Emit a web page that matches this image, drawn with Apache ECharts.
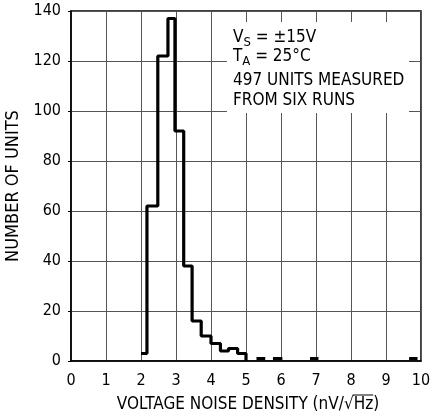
<!DOCTYPE html>
<html><head><meta charset="utf-8">
<script src="https://cdn.jsdelivr.net/npm/echarts@6/dist/echarts.min.js"></script>
<style>html,body{margin:0;padding:0;background:#fff}#c{width:433px;height:419px}</style>
</head><body><div id="c"></div>
<script>
// Histogram bin edges (nV/√Hz) and counts
const binEdges = [2.0, 2.17, 2.48, 2.77, 2.97, 3.22, 3.46, 3.72, 4.0, 4.27, 4.5, 4.76, 5.0];
const binCounts = [3, 62, 122, 137, 92, 38, 16, 10, 7, 4, 5, 3];
// isolated single units beyond 5 nV/√Hz: [start, end]
const outlierBins = [[5.3, 5.55], [5.77, 6.04], [6.83, 7.07], [9.66, 9.9]];
const xTicks = [0,1,2,3,4,5,6,7,8,9,10];
const yTicks = [0,20,40,60,80,100,120,140];
const condLines = [['V', 'S', ' = ±15V'], ['T', 'A', ' = 25°C']];
const notes = ['497 UNITS MEASURED', 'FROM SIX RUNS'];

const FONT = "'Liberation Sans Narrow','DejaVu Sans Condensed','Roboto Condensed','Liberation Sans',Arial,sans-serif";

// Build step path points
const pts = [];
for (let i = 0; i < binCounts.length; i++) pts.push([binEdges[i], binCounts[i]]);
pts.push([binEdges[binEdges.length-1], 0]);
const outSeries = outlierBins.map(b => ({
  type: 'line', step: 'end', symbol: 'none', silent: true,
  lineStyle: {color: '#000', width: 3},
  data: [[b[0], 1], [b[1], 1]], z: 5
}));

const chart = echarts.init(document.getElementById('c'), null, {renderer: 'canvas'});

const cv = document.createElement('canvas').getContext('2d');
function tw(s, size) { cv.font = size + 'px ' + FONT; return cv.measureText(s).width; }

// x-axis title with overline over Hz
const titleSize = 17;
const t1 = 'VOLTAGE NOISE DENSITY (nV/√', t2 = 'Hz', t3 = ')';
const w1 = tw(t1, titleSize), w2 = tw(t2, titleSize), w3 = tw(t3, titleSize);
const gridL = 71, gridR = 12, W = 433;
const cx = gridL + (W - gridL - gridR) / 2 + 2;
const tx0 = cx - (w1 + w2 + w3) / 2;
const titleY = 404.5;

// annotation
const AF = 17, SF = 13, AX = 233;
const lineCenters = [38, 56.7];
const graphics = [
  {type: 'rect', shape: {x: 227, y: 22, width: 182, height: 91}, style: {fill: '#fff'}, z: 10}
];
condLines.forEach((parts, i) => {
  const yc = lineCenters[i];
  const wa = tw(parts[0], AF), wb = tw(parts[1], SF);
  graphics.push({type: 'text', x: AX, y: yc, z: 11, style: {text: parts[0], font: AF + 'px ' + FONT, fill: '#000', verticalAlign: 'middle'}});
  graphics.push({type: 'text', x: AX + wa, y: yc + 5, z: 11, style: {text: parts[1], font: SF + 'px ' + FONT, fill: '#000', verticalAlign: 'middle'}});
  graphics.push({type: 'text', x: AX + wa + wb, y: yc, z: 11, style: {text: parts[2], font: AF + 'px ' + FONT, fill: '#000', verticalAlign: 'middle'}});
});
graphics.push({type: 'text', x: AX, y: 81, z: 11, style: {text: notes[0], font: AF + 'px ' + FONT, fill: '#000', verticalAlign: 'middle'}});
graphics.push({type: 'text', x: AX, y: 101, z: 11, style: {text: notes[1], font: AF + 'px ' + FONT, fill: '#000', verticalAlign: 'middle'}});
graphics.push({type: 'text', x: tx0, y: titleY, z: 11, style: {text: t1, font: titleSize + 'px ' + FONT, fill: '#000', verticalAlign: 'middle'}});
graphics.push({type: 'text', x: tx0 + w1, y: titleY, z: 11, style: {text: t2, font: titleSize + 'px ' + FONT, fill: '#000', verticalAlign: 'middle'}});
graphics.push({type: 'text', x: tx0 + w1 + w2, y: titleY, z: 11, style: {text: t3, font: titleSize + 'px ' + FONT, fill: '#000', verticalAlign: 'middle'}});
graphics.push({type: 'line', z: 11, shape: {x1: tx0 + w1 - 1, y1: titleY - 9.5, x2: tx0 + w1 + w2, y2: titleY - 9.5}, style: {stroke: '#000', lineWidth: 1}});

chart.setOption({
  animation: false,
  grid: {left: gridL, right: gridR, top: 11, bottom: 58, show: true, borderColor: '#000', borderWidth: 1.5,
         containLabel: false, outerBoundsMode: 'none'},
  xAxis: {
    type: 'value', min: 0, max: 10, interval: 1,
    axisLine: {show: true, onZero: false, lineStyle: {color: '#000', width: 1.5}},
    axisTick: {show: false},
    axisLabel: {color: '#000', fontFamily: FONT, fontSize: 16, margin: 12,
      formatter: v => xTicks.includes(v) ? String(v) : ''},
    splitLine: {show: true, lineStyle: {color: '#555', width: 1}}
  },
  yAxis: {
    type: 'value', min: 0, max: 140, interval: 20,
    name: 'NUMBER OF UNITS', nameLocation: 'middle', nameGap: 48, nameRotate: 90,
    nameTextStyle: {color: '#000', fontFamily: FONT, fontSize: 18},
    axisLine: {show: true, lineStyle: {color: '#000', width: 1.5}},
    axisTick: {show: true, inside: false, length: 3, lineStyle: {color: '#000'}},
    axisLabel: {color: '#000', fontFamily: FONT, fontSize: 16, margin: 10,
      formatter: v => yTicks.includes(v) ? String(v) : ''},
    splitLine: {show: true, lineStyle: {color: '#555', width: 1}}
  },
  series: [{
    type: 'line', step: 'end', symbol: 'none', silent: true,
    lineStyle: {color: '#000', width: 3.2},
    data: pts, z: 5
  }].concat(outSeries),
  graphic: graphics
});
</script></body></html>
